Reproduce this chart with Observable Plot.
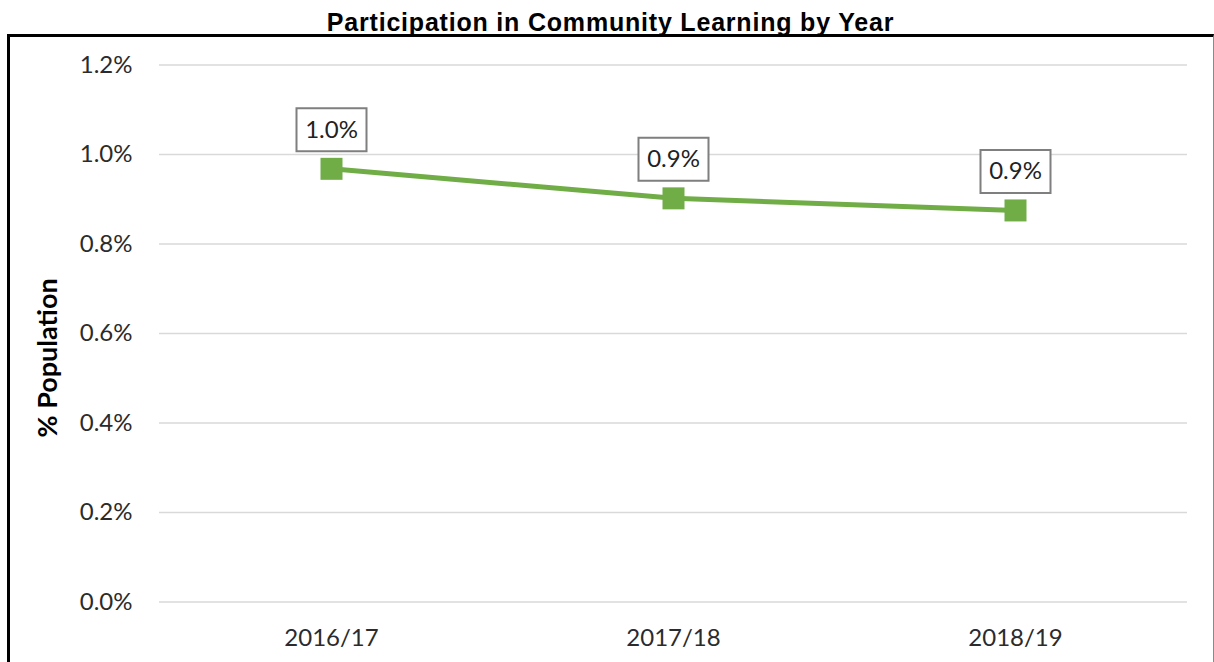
<!DOCTYPE html>
<html>
<head>
<meta charset="utf-8">
<script src="https://cdn.jsdelivr.net/npm/d3@7"></script>
<script src="https://cdn.jsdelivr.net/npm/@observablehq/plot@0.6"></script>
<style>
  html, body { margin: 0; padding: 0; background: #fff; }
  body { width: 1214px; height: 662px; overflow: hidden; position: relative; }
  #title { position: absolute; left: 0; top: 8px; width: 1221px; text-align: center; line-height: 24px;
           font: bold 25px "Liberation Sans", Arial, sans-serif; letter-spacing: 0.8px; color: #000; white-space: nowrap; }
  #frame { position: absolute; left: 7px; top: 34px; width: 1207px; height: 700px; box-sizing: border-box;
           border-left: 3px solid #000; border-top: 3px solid #000; border-right: 1px solid #8a8a8a; }
  #chart { position: absolute; left: 0; top: 36px; }
</style>
</head>
<body>
<div id="title"></div>
<div id="frame"></div>
<div id="chart"></div>
<script>
// ---- data ----
const chartTitle = "Participation in Community Learning by Year";
const yAxisTitle = "% Population";
const years = ["2016/17", "2017/18", "2018/19"];
const values = [0.968, 0.902, 0.875];          // % population
const valueLabels = ["1.0%", "0.9%", "0.9%"];
const yTicks = [0, 0.2, 0.4, 0.6, 0.8, 1.0, 1.2];

// ---- build ----
document.getElementById("title").textContent = chartTitle;

const data = years.map((year, i) => ({ year, value: values[i], label: valueLabels[i] }));
const rectSymbol = (w, h) => ({ draw(ctx) { ctx.rect(-w / 2, -h / 2, w, h); } });

const chart = Plot.plot({
  width: 1214,
  height: 626,
  marginLeft: 159,
  marginRight: 27,
  marginTop: 28.5,
  marginBottom: 60.5,
  style: { fontFamily: "Lato, 'Open Sans', sans-serif", fontSize: "24px", color: "#2b2b2b", background: "transparent" },
  x: { type: "point", domain: years, padding: 0.5 },
  y: { domain: [0, 1.2] },
  marks: [
    Plot.ruleY(yTicks, { stroke: "#d9d9d9", strokeWidth: 1.5 }),
    Plot.axisY({ ticks: yTicks, tickFormat: d => d.toFixed(1) + "%", tickSize: 0, tickPadding: 27, label: null, fontSize: 24 }),
    Plot.axisX({ tickSize: 0, tickPadding: 26.5, label: null, fontSize: 24 }),
    Plot.line(data, { x: "year", y: "value", stroke: "#70ad47", strokeWidth: 5 }),
    Plot.dot(data, { x: "year", y: "value", symbol: rectSymbol(22, 22), r: 5, fill: "#70ad47" }),
    Plot.dot(data, { x: "year", y: "value", symbol: rectSymbol(70, 43), r: 5, fill: "white", stroke: "#7f7f7f", strokeWidth: 2, dy: -39 }),
    Plot.text(data, { x: "year", y: "value", text: "label", dy: -39, fontSize: 24, fill: "#222" }),
    Plot.text([yAxisTitle], { frameAnchor: "left", dx: -111, dy: 104, rotate: -90, fontWeight: "bold", fontSize: 27, fill: "#000" })
  ]
});
document.getElementById("chart").appendChild(chart);
</script>
</body>
</html>
